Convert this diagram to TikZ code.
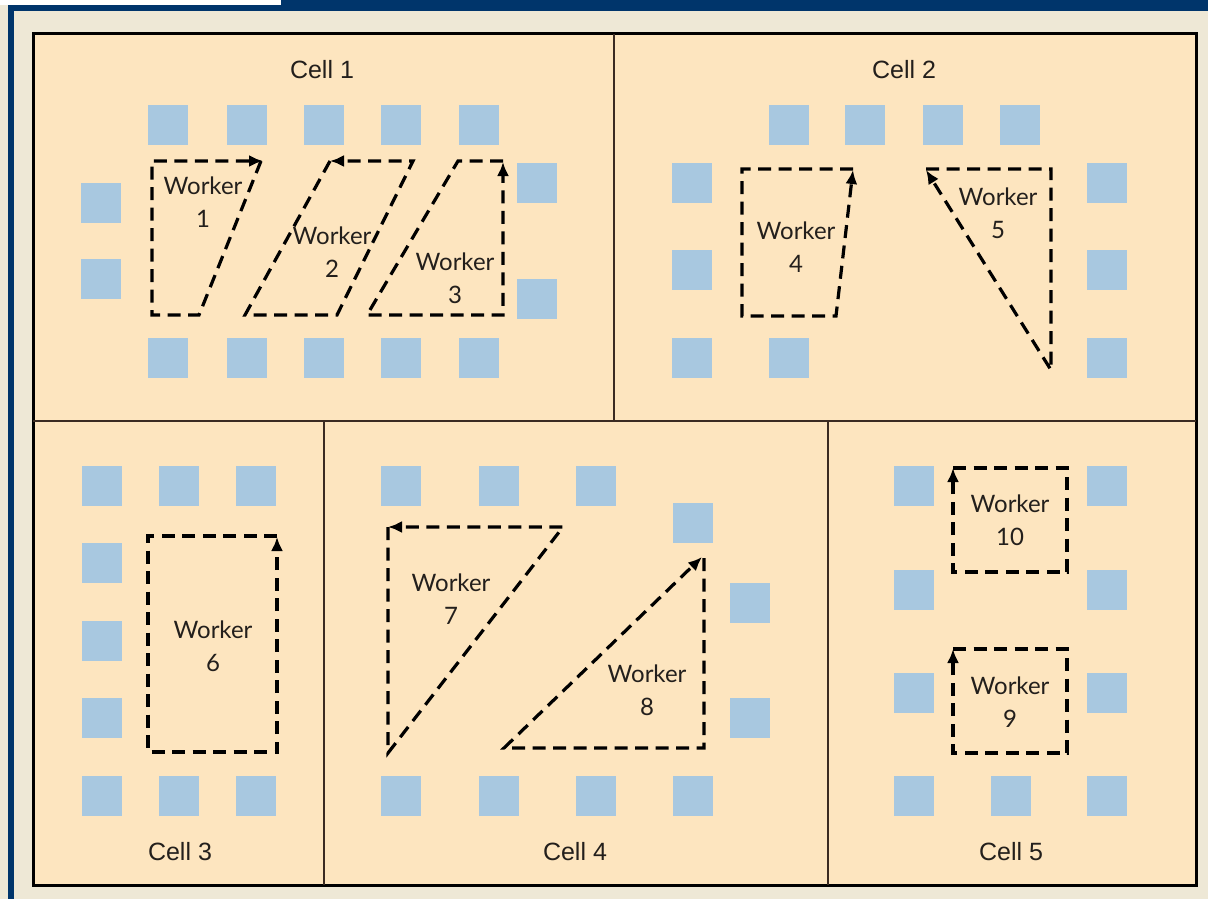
\documentclass[tikz,border=0pt]{standalone}
\usepackage{fontspec}
\usetikzlibrary{arrows.meta}
\newfontfamily\cellfont{Liberation Sans}
\newfontfamily\wfont{Lato}
\definecolor{navy}{HTML}{00356B}
\definecolor{paper}{HTML}{EEE8D6}
\definecolor{cellfill}{HTML}{FDE5BF}
\definecolor{sq}{HTML}{A8C8E0}
\definecolor{divider}{HTML}{3B2B22}
\definecolor{ink}{HTML}{231F1C}
\tikzset{
  station/.style={fill=sq, draw=none, minimum width=40pt, minimum height=40pt, inner sep=0pt},
  route/.style={line width=3.2pt, dash pattern=on 13pt off 7.5pt, black, line join=miter},
  routearrow/.style={route, -{Latex[length=14pt,width=12pt]}},
  celllabel/.style={font=\cellfont\fontsize{25}{30}\selectfont, text=ink, inner sep=0pt},
  wlabel/.style={font=\wfont\fontsize{24}{33}\selectfont, text=ink, align=center, inner sep=0pt},
}
\begin{document}
\begin{tikzpicture}[x=1pt,y=-1pt]
\useasboundingbox (0,0) rectangle (1208,899);
% background frame
\fill[paper] (0,0) rectangle (1208,899);
\fill[white] (0,0) rectangle (281,5);
\fill[navy] (281,0) rectangle (1208,11);
\fill[navy] (8,5) rectangle (1208,11);
\fill[navy] (8,5) rectangle (14,899);
% cells
\draw[line width=3pt, fill=cellfill] (33,34) rectangle (1196,885);
\draw[divider, line width=2pt] (33,421) -- (1196,421);
\draw[divider, line width=2pt] (614,34) -- (614,421);
\draw[divider, line width=2pt] (324,421) -- (324,885);
\draw[divider, line width=2pt] (828,421) -- (828,885);
% labels
\node[celllabel] (cell1) at (322,70) {Cell 1};
\node[celllabel] (cell2) at (904,70) {Cell 2};
\node[celllabel] (cell3) at (180,852) {Cell 3};
\node[celllabel] (cell4) at (575,852) {Cell 4};
\node[celllabel] (cell5) at (1011,852) {Cell 5};
% Cell 1 stations
\foreach \x [count=\i] in {168,247,324,401,479} {
  \node[station] (c1t\i) at (\x,125) {};
  \node[station] (c1b\i) at (\x,357.5) {};
}
\node[station] (c1l1) at (101,202.5) {};
\node[station] (c1l2) at (101,279) {};
\node[station] (c1r1) at (537,183) {};
\node[station] (c1r2) at (537,298.5) {};
% Cell 2 stations
\foreach \x [count=\i] in {789,865,943,1020} {
  \node[station] (c2t\i) at (\x,125) {};
}
\foreach \y [count=\i] in {182.5,270,357.5} {
  \node[station] (c2l\i) at (692,\y) {};
  \node[station] (c2r\i) at (1107,\y) {};
}
\node[station] (c2b1) at (789,357.5) {};
% Cell 3 stations
\foreach \x [count=\i] in {101.5,178.5,256} {
  \node[station] (c3t\i) at (\x,485.5) {};
  \node[station] (c3b\i) at (\x,796) {};
}
\foreach \y [count=\i] in {563,641,718} {
  \node[station] (c3l\i) at (101.5,\y) {};
}
% Cell 4 stations
\foreach \x [count=\i] in {401,499,595.5} {
  \node[station] (c4t\i) at (\x,485.5) {};
}
\foreach \x [count=\i] in {401,499,595.5,692.5} {
  \node[station] (c4b\i) at (\x,796) {};
}
\node[station] (c4r0) at (692.5,523) {};
\node[station] (c4r1) at (749.5,603) {};
\node[station] (c4r2) at (749.5,718) {};
% Cell 5 stations
\foreach \y [count=\i] in {485.5,589.5,692.5,796} {
  \node[station] (c5l\i) at (914,\y) {};
  \node[station] (c5r\i) at (1107,\y) {};
}
\node[station] (c5b) at (1011,796) {};
% worker routes
\draw[routearrow] (261,161) -- (199,315) -- (152,315) -- (152,161) -- (263,161);
\draw[routearrow] (330,161) -- (245,315) -- (337,315) -- (413,161) -- (330,161);
\draw[routearrow] (503,161) -- (458,161) -- (367,315) -- (503,315) -- (503,162);
\draw[routearrow] (853,169) -- (742,169) -- (742,316) -- (836,316) -- (853,170);
\draw[routearrow] (926,169) -- (1051,169) -- (1051,370) -- (926,170);
\draw[routearrow] (277,536) -- (148,536) -- (148,752) -- (277,752) -- (277,537);
\draw[routearrow] (388,527) -- (388,753) -- (563,527) -- (388,527);
\draw[routearrow] (704,558) -- (704,748) -- (504,748) -- (702,557);
\draw[routearrow] (953,468) -- (1067,468) -- (1067,572) -- (953,572) -- (953,468);
\draw[routearrow] (953,649) -- (1067,649) -- (1067,753) -- (953,753) -- (953,649);
% worker labels
\node[wlabel] (w1) at (203,202) {Worker\\1};
\node[wlabel] (w2) at (332,252) {Worker\\2};
\node[wlabel] (w3) at (455,278) {Worker\\3};
\node[wlabel] (w4) at (796,247) {Worker\\4};
\node[wlabel] (w5) at (998,213) {Worker\\5};
\node[wlabel] (w6) at (213,646) {Worker\\6};
\node[wlabel] (w7) at (451,599) {Worker\\7};
\node[wlabel] (w8) at (647,690) {Worker\\8};
\node[wlabel] (w10) at (1010,520) {Worker\\10};
\node[wlabel] (w9) at (1010,702) {Worker\\9};
\end{tikzpicture}
\end{document}
